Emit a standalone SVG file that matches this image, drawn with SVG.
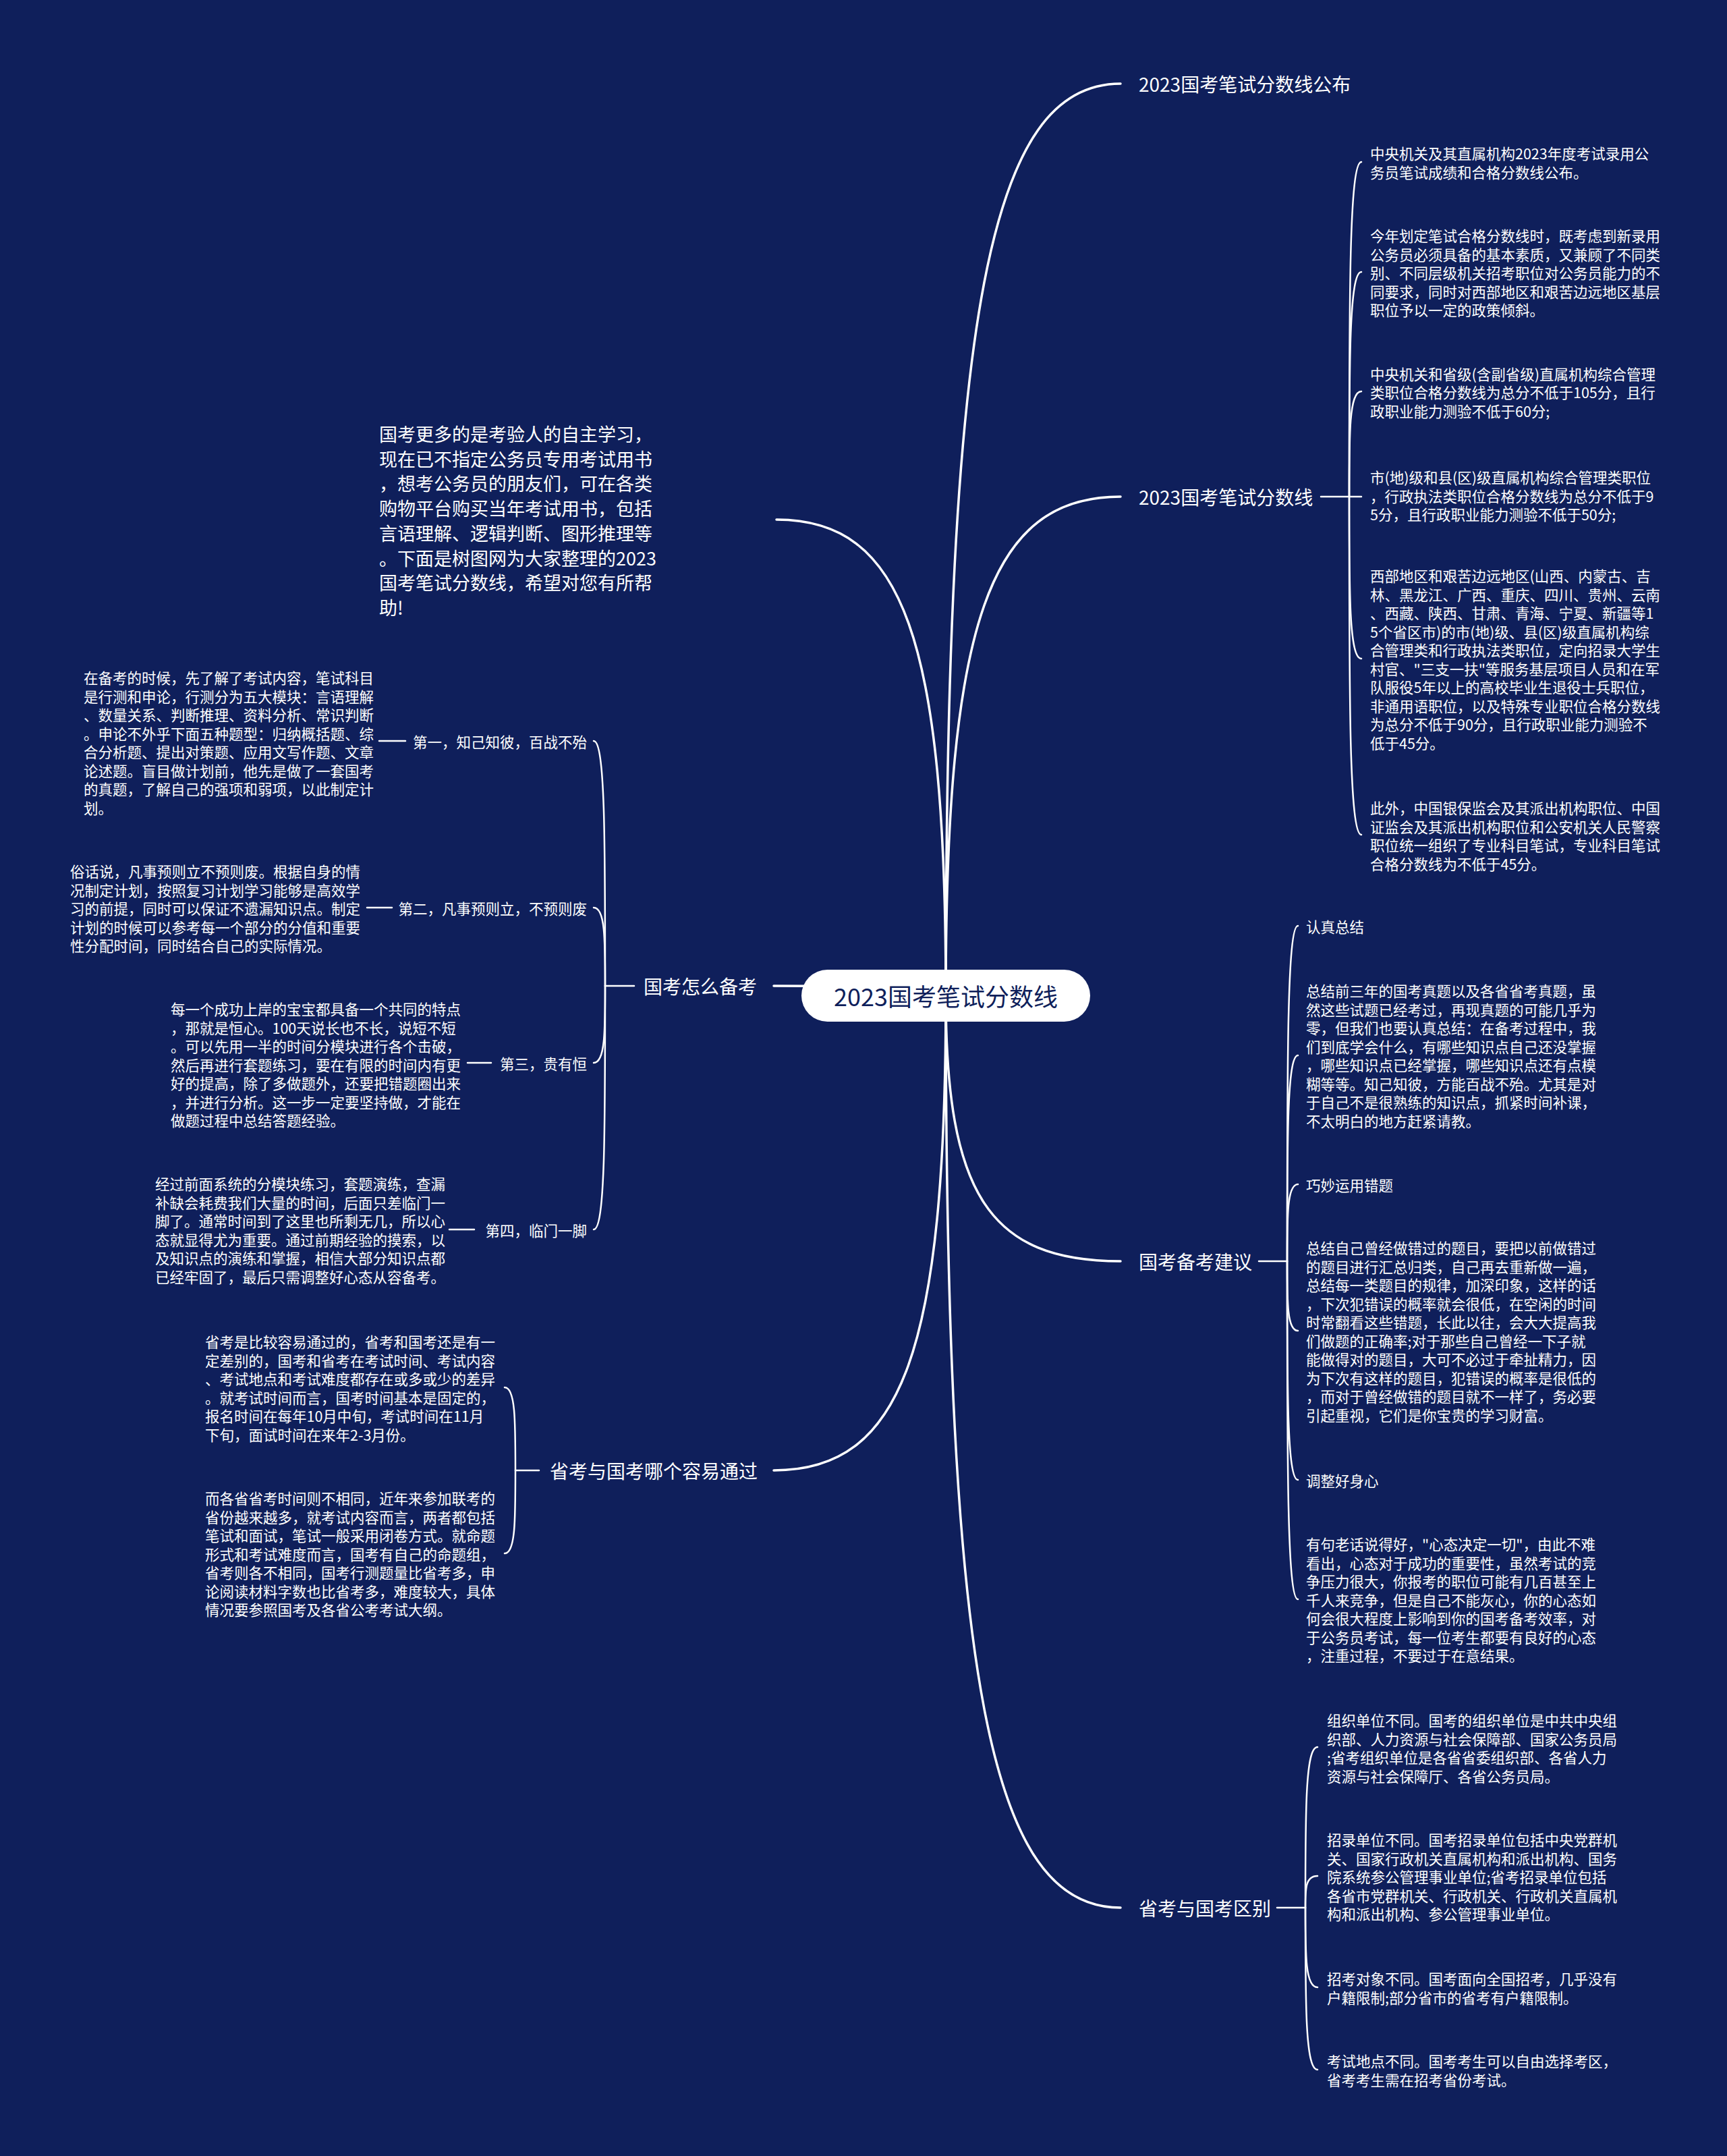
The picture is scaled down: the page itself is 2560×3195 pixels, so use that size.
<svg xmlns="http://www.w3.org/2000/svg" width="2560" height="3195" viewBox="0 0 2560 3195">
<style>
text{font-family:"Noto Sans CJK SC","Noto Sans",sans-serif;fill:#ffffff;dominant-baseline:central}
.tc{font-size:36px;fill:#0f1f5b;text-anchor:middle}
.tm{font-size:28px}
.ti{font-size:27px}
.tl{font-size:21.5px}
.te{text-anchor:end}
.cm{fill:none;stroke:#ffffff;stroke-width:3.5;stroke-linecap:round}
.cs{fill:none;stroke:#ffffff;stroke-width:2.5;stroke-linecap:round}
</style>
<rect width="2560" height="3195" fill="#0f1f5b"/>
<g id="connectors">
<path class="cm" d="M1402 1475 C1402 462 1467 124 1661 124"/>
<path class="cm" d="M1402 1475 C1402 921 1467 736 1661 736"/>
<path class="cm" d="M1402 1475 C1402 1770 1467 1869 1661 1869"/>
<path class="cm" d="M1402 1475 C1402 2489 1467 2827 1661 2827"/>
<path class="cm" d="M1402 1475 C1402 946 1339 770 1151 770"/>
<path class="cm" d="M1402 1475 C1402 1465 1338 1461 1147 1461"/>
<path class="cm" d="M1402 1475 C1402 2001 1338 2179 1147 2179"/>
<path class="cs" d="M1958 736 L2018 736"/>
<path class="cs" d="M2000 736 C2000 438 2000 240 2018 240"/>
<path class="cs" d="M2000 736 C2000 536 2000 403 2018 403"/>
<path class="cs" d="M2000 736 C2000 642 2000 580 2018 580"/>
<path class="cs" d="M2000 736 C2000 880 2000 976 2018 976"/>
<path class="cs" d="M2000 736 C2000 1037 2000 1237 2018 1237"/>
<path class="cs" d="M1866 1869 L1908 1869"/>
<path class="cs" d="M1908 1869 C1908 1571 1908 1372 1924 1372"/>
<path class="cs" d="M1908 1869 C1908 1686 1908 1564 1924 1564"/>
<path class="cs" d="M1908 1869 C1908 1801 1908 1755 1924 1755"/>
<path class="cs" d="M1908 1869 C1908 1931 1908 1972 1924 1972"/>
<path class="cs" d="M1908 1869 C1908 2063 1908 2193 1924 2193"/>
<path class="cs" d="M1908 1869 C1908 2170 1908 2370 1924 2370"/>
<path class="cs" d="M1893 2827 L1935 2827"/>
<path class="cs" d="M1935 2827 C1935 2684 1935 2589 1953 2589"/>
<path class="cs" d="M1935 2827 C1935 2799 1935 2780 1953 2780"/>
<path class="cs" d="M1935 2827 C1935 2898 1935 2945 1953 2945"/>
<path class="cs" d="M1935 2827 C1935 2971 1935 3067 1953 3067"/>
<path class="cs" d="M940 1461 L897 1461"/>
<path class="cs" d="M897 1461 C897 1243 897 1098 880 1098"/>
<path class="cs" d="M897 1461 C897 1391 897 1345 880 1345"/>
<path class="cs" d="M897 1461 C897 1529 897 1575 880 1575"/>
<path class="cs" d="M897 1461 C897 1678 897 1822 880 1822"/>
<path class="cs" d="M562 1098 L601 1098"/>
<path class="cs" d="M544 1345 L581 1345"/>
<path class="cs" d="M693 1575 L728 1575"/>
<path class="cs" d="M666 1822 L703 1822"/>
<path class="cs" d="M799 2179 L764 2179"/>
<path class="cs" d="M764 2179 C764 2105 764 2056 748 2056"/>
<path class="cs" d="M764 2179 C764 2253 764 2302 748 2302"/>
</g>
<g id="center">
<rect x="1188" y="1437" width="428" height="77" rx="38.5" fill="#ffffff"/>
<text class="tc" x="1402" y="1475">2023国考笔试分数线</text>
</g>
<g id="n-gongbu"><text class="tm" x="1688" y="124">2023国考笔试分数线公布</text></g>
<g id="n-fenshuxian"><text class="tm" x="1688" y="736">2023国考笔试分数线</text></g>
<g id="n-b1"><text class="tl" x="2031"><tspan x="2031" y="226">中央机关及其直属机构2023年度考试录用公</tspan><tspan x="2031" y="253.5">务员笔试成绩和合格分数线公布。</tspan></text></g>
<g id="n-b2"><text class="tl"><tspan x="2031" y="348">今年划定笔试合格分数线时，既考虑到新录用</tspan><tspan x="2031" y="375.5">公务员必须具备的基本素质，又兼顾了不同类</tspan><tspan x="2031" y="403">别、不同层级机关招考职位对公务员能力的不</tspan><tspan x="2031" y="430.5">同要求，同时对西部地区和艰苦边远地区基层</tspan><tspan x="2031" y="458">职位予以一定的政策倾斜。</tspan></text></g>
<g id="n-b3"><text class="tl"><tspan x="2031" y="552.5">中央机关和省级(含副省级)直属机构综合管理</tspan><tspan x="2031" y="580">类职位合格分数线为总分不低于105分，且行</tspan><tspan x="2031" y="607.5">政职业能力测验不低于60分;</tspan></text></g>
<g id="n-b4"><text class="tl"><tspan x="2031" y="706">市(地)级和县(区)级直属机构综合管理类职位</tspan><tspan x="2031" y="733.5">，行政执法类职位合格分数线为总分不低于9</tspan><tspan x="2031" y="761">5分，且行政职业能力测验不低于50分;</tspan></text></g>
<g id="n-b5"><text class="tl"><tspan x="2031" y="852">西部地区和艰苦边远地区(山西、内蒙古、吉</tspan><tspan x="2031" y="879.5">林、黑龙江、广西、重庆、四川、贵州、云南</tspan><tspan x="2031" y="907">、西藏、陕西、甘肃、青海、宁夏、新疆等1</tspan><tspan x="2031" y="934.5">5个省区市)的市(地)级、县(区)级直属机构综</tspan><tspan x="2031" y="962">合管理类和行政执法类职位，定向招录大学生</tspan><tspan x="2031" y="989.5">村官、"三支一扶"等服务基层项目人员和在军</tspan><tspan x="2031" y="1017">队服役5年以上的高校毕业生退役士兵职位，</tspan><tspan x="2031" y="1044.5">非通用语职位，以及特殊专业职位合格分数线</tspan><tspan x="2031" y="1072">为总分不低于90分，且行政职业能力测验不</tspan><tspan x="2031" y="1099.5">低于45分。</tspan></text></g>
<g id="n-b6"><text class="tl"><tspan x="2031" y="1196">此外，中国银保监会及其派出机构职位、中国</tspan><tspan x="2031" y="1223.5">证监会及其派出机构职位和公安机关人民警察</tspan><tspan x="2031" y="1251">职位统一组织了专业科目笔试，专业科目笔试</tspan><tspan x="2031" y="1278.5">合格分数线为不低于45分。</tspan></text></g>
<g id="n-beikao-jianyi"><text class="tm" x="1688" y="1869">国考备考建议</text></g>
<g id="n-c1"><text class="tl" x="1936" y="1372">认真总结</text></g>
<g id="n-c2"><text class="tl"><tspan x="1936" y="1467">总结前三年的国考真题以及各省省考真题，虽</tspan><tspan x="1936" y="1494.5">然这些试题已经考过，再现真题的可能几乎为</tspan><tspan x="1936" y="1522">零，但我们也要认真总结：在备考过程中，我</tspan><tspan x="1936" y="1549.5">们到底学会什么，有哪些知识点自己还没掌握</tspan><tspan x="1936" y="1577">，哪些知识点已经掌握，哪些知识点还有点模</tspan><tspan x="1936" y="1604.5">糊等等。知己知彼，方能百战不殆。尤其是对</tspan><tspan x="1936" y="1632">于自己不是很熟练的知识点，抓紧时间补课，</tspan><tspan x="1936" y="1659.5">不太明白的地方赶紧请教。</tspan></text></g>
<g id="n-c3"><text class="tl" x="1936" y="1755">巧妙运用错题</text></g>
<g id="n-c4"><text class="tl"><tspan x="1936" y="1848">总结自己曾经做错过的题目，要把以前做错过</tspan><tspan x="1936" y="1875.5">的题目进行汇总归类，自己再去重新做一遍，</tspan><tspan x="1936" y="1903">总结每一类题目的规律，加深印象，这样的话</tspan><tspan x="1936" y="1930.5">，下次犯错误的概率就会很低，在空闲的时间</tspan><tspan x="1936" y="1958">时常翻看这些错题，长此以往，会大大提高我</tspan><tspan x="1936" y="1985.5">们做题的正确率;对于那些自己曾经一下子就</tspan><tspan x="1936" y="2013">能做得对的题目，大可不必过于牵扯精力，因</tspan><tspan x="1936" y="2040.5">为下次有这样的题目，犯错误的概率是很低的</tspan><tspan x="1936" y="2068">，而对于曾经做错的题目就不一样了，务必要</tspan><tspan x="1936" y="2095.5">引起重视，它们是你宝贵的学习财富。</tspan></text></g>
<g id="n-c5"><text class="tl" x="1936" y="2193">调整好身心</text></g>
<g id="n-c6"><text class="tl"><tspan x="1936" y="2287">有句老话说得好，"心态决定一切"，由此不难</tspan><tspan x="1936" y="2314.5">看出，心态对于成功的重要性，虽然考试的竞</tspan><tspan x="1936" y="2342">争压力很大，你报考的职位可能有几百甚至上</tspan><tspan x="1936" y="2369.5">千人来竞争，但是自己不能灰心，你的心态如</tspan><tspan x="1936" y="2397">何会很大程度上影响到你的国考备考效率，对</tspan><tspan x="1936" y="2424.5">于公务员考试，每一位考生都要有良好的心态</tspan><tspan x="1936" y="2452">，注重过程，不要过于在意结果。</tspan></text></g>
<g id="n-qubie"><text class="tm" x="1688" y="2827">省考与国考区别</text></g>
<g id="n-d1"><text class="tl"><tspan x="1967" y="2548">组织单位不同。国考的组织单位是中共中央组</tspan><tspan x="1967" y="2575.5">织部、人力资源与社会保障部、国家公务员局</tspan><tspan x="1967" y="2603">;省考组织单位是各省省委组织部、各省人力</tspan><tspan x="1967" y="2630.5">资源与社会保障厅、各省公务员局。</tspan></text></g>
<g id="n-d2"><text class="tl"><tspan x="1967" y="2725">招录单位不同。国考招录单位包括中央党群机</tspan><tspan x="1967" y="2752.5">关、国家行政机关直属机构和派出机构、国务</tspan><tspan x="1967" y="2780">院系统参公管理事业单位;省考招录单位包括</tspan><tspan x="1967" y="2807.5">各省市党群机关、行政机关、行政机关直属机</tspan><tspan x="1967" y="2835">构和派出机构、参公管理事业单位。</tspan></text></g>
<g id="n-d3"><text class="tl"><tspan x="1967" y="2931">招考对象不同。国考面向全国招考，几乎没有</tspan><tspan x="1967" y="2958.5">户籍限制;部分省市的省考有户籍限制。</tspan></text></g>
<g id="n-d4"><text class="tl"><tspan x="1967" y="3053">考试地点不同。国考考生可以自由选择考区，</tspan><tspan x="1967" y="3080.5">省考考生需在招考省份考试。</tspan></text></g>
<g id="n-intro"><text class="ti"><tspan x="562" y="642">国考更多的是考验人的自主学习，</tspan><tspan x="562" y="678.7">现在已不指定公务员专用考试用书</tspan><tspan x="562" y="715.4">，想考公务员的朋友们，可在各类</tspan><tspan x="562" y="752.1">购物平台购买当年考试用书，包括</tspan><tspan x="562" y="788.8">言语理解、逻辑判断、图形推理等</tspan><tspan x="562" y="825.5">。下面是树图网为大家整理的2023</tspan><tspan x="562" y="862.2">国考笔试分数线，希望对您有所帮</tspan><tspan x="562" y="898.9">助!</tspan></text></g>
<g id="n-zenme"><text class="tm" x="954" y="1461">国考怎么备考</text></g>
<g id="n-f1"><text class="tl te" x="870" y="1098">第一，知己知彼，百战不殆</text></g>
<g id="n-f1t"><text class="tl"><tspan x="124" y="1003">在备考的时候，先了解了考试内容，笔试科目</tspan><tspan x="124" y="1030.5">是行测和申论，行测分为五大模块：言语理解</tspan><tspan x="124" y="1058">、数量关系、判断推理、资料分析、常识判断</tspan><tspan x="124" y="1085.5">。申论不外乎下面五种题型：归纳概括题、综</tspan><tspan x="124" y="1113">合分析题、提出对策题、应用文写作题、文章</tspan><tspan x="124" y="1140.5">论述题。盲目做计划前，他先是做了一套国考</tspan><tspan x="124" y="1168">的真题，了解自己的强项和弱项，以此制定计</tspan><tspan x="124" y="1195.5">划。</tspan></text></g>
<g id="n-f2"><text class="tl te" x="870" y="1345">第二，凡事预则立，不预则废</text></g>
<g id="n-f2t"><text class="tl"><tspan x="104" y="1290">俗话说，凡事预则立不预则废。根据自身的情</tspan><tspan x="104" y="1317.5">况制定计划，按照复习计划学习能够是高效学</tspan><tspan x="104" y="1345">习的前提，同时可以保证不遗漏知识点。制定</tspan><tspan x="104" y="1372.5">计划的时候可以参考每一个部分的分值和重要</tspan><tspan x="104" y="1400">性分配时间，同时结合自己的实际情况。</tspan></text></g>
<g id="n-f3"><text class="tl te" x="870" y="1575">第三，贵有恒</text></g>
<g id="n-f3t"><text class="tl"><tspan x="253" y="1494">每一个成功上岸的宝宝都具备一个共同的特点</tspan><tspan x="253" y="1521.5">，那就是恒心。100天说长也不长，说短不短</tspan><tspan x="253" y="1549">。可以先用一半的时间分模块进行各个击破，</tspan><tspan x="253" y="1576.5">然后再进行套题练习，要在有限的时间内有更</tspan><tspan x="253" y="1604">好的提高，除了多做题外，还要把错题圈出来</tspan><tspan x="253" y="1631.5">，并进行分析。这一步一定要坚持做，才能在</tspan><tspan x="253" y="1659">做题过程中总结答题经验。</tspan></text></g>
<g id="n-f4"><text class="tl te" x="870" y="1822">第四，临门一脚</text></g>
<g id="n-f4t"><text class="tl"><tspan x="230" y="1753">经过前面系统的分模块练习，套题演练，查漏</tspan><tspan x="230" y="1780.5">补缺会耗费我们大量的时间，后面只差临门一</tspan><tspan x="230" y="1808">脚了。通常时间到了这里也所剩无几，所以心</tspan><tspan x="230" y="1835.5">态就显得尤为重要。通过前期经验的摸索，以</tspan><tspan x="230" y="1863">及知识点的演练和掌握，相信大部分知识点都</tspan><tspan x="230" y="1890.5">已经牢固了，最后只需调整好心态从容备考。</tspan></text></g>
<g id="n-nage"><text class="tm" x="815" y="2179">省考与国考哪个容易通过</text></g>
<g id="n-g1"><text class="tl"><tspan x="304" y="1987">省考是比较容易通过的，省考和国考还是有一</tspan><tspan x="304" y="2014.5">定差别的，国考和省考在考试时间、考试内容</tspan><tspan x="304" y="2042">、考试地点和考试难度都存在或多或少的差异</tspan><tspan x="304" y="2069.5">。就考试时间而言，国考时间基本是固定的，</tspan><tspan x="304" y="2097">报名时间在每年10月中旬，考试时间在11月</tspan><tspan x="304" y="2124.5">下旬，面试时间在来年2-3月份。</tspan></text></g>
<g id="n-g2"><text class="tl"><tspan x="304" y="2219">而各省省考时间则不相同，近年来参加联考的</tspan><tspan x="304" y="2246.5">省份越来越多，就考试内容而言，两者都包括</tspan><tspan x="304" y="2274">笔试和面试，笔试一般采用闭卷方式。就命题</tspan><tspan x="304" y="2301.5">形式和考试难度而言，国考有自己的命题组，</tspan><tspan x="304" y="2329">省考则各不相同，国考行测题量比省考多，申</tspan><tspan x="304" y="2356.5">论阅读材料字数也比省考多，难度较大，具体</tspan><tspan x="304" y="2384">情况要参照国考及各省公考考试大纲。</tspan></text></g>
</svg>
